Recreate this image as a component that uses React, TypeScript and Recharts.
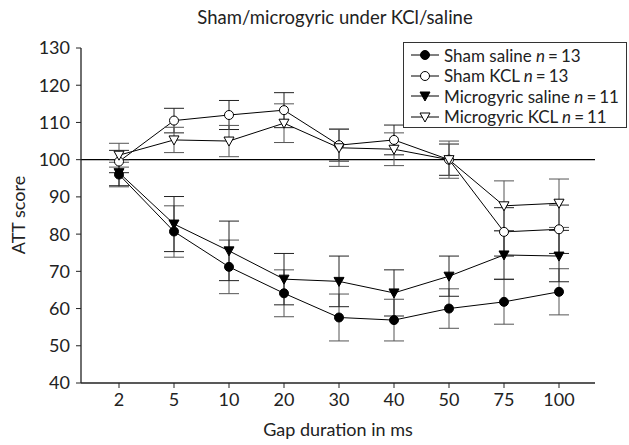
import { LineChart, Line, XAxis, YAxis, ErrorBar, ReferenceLine, Label } from 'recharts'

const gaps = ['2', '5', '10', '20', '30', '40', '50', '75', '100']
const yTicks = [40, 50, 60, 70, 80, 90, 100, 110, 120, 130]

const shamSaline = [96, 80.7, 71.2, 64.1, 57.6, 56.9, 60, 61.8, 64.5]
const shamSalineErr = [3.3, 6.9, 7.2, 6.3, 6.3, 5.6, 5.3, 6, 6.2]
const shamKcl = [99.5, 110.5, 112, 113.3, 103.9, 105.3, 100, 80.6, 81.3]
const shamKclErr = [3, 3.3, 3.9, 4.7, 4.3, 4, 4.2, 6.5, 6.5]
const microSaline = [96.5, 82.7, 75.5, 67.9, 67.3, 64.2, 68.7, 74.4, 74.1]
const microSalineErr = [3.5, 7.4, 8, 6.9, 6.8, 6.2, 5.4, 6.5, 6.9]
const microKcl = [101.2, 105.3, 105, 109.8, 103.2, 102.8, 100, 87.6, 88.3]
const microKclErr = [3.2, 3.4, 4.2, 5.2, 5, 4.4, 5, 6.7, 6.5]

const data = gaps.map((g, i) => ({
  gap: g,
  shamSaline: shamSaline[i],
  shamSalineErr: shamSalineErr[i],
  shamKcl: shamKcl[i],
  shamKclErr: shamKclErr[i],
  microSaline: microSaline[i],
  microSalineErr: microSalineErr[i],
  microKcl: microKcl[i],
  microKclErr: microKclErr[i],
}))

const FONT = 'Lato, "Open Sans", sans-serif'

const circleDot = (fill: string) => (props: any) => (
  <circle key={props.index} cx={props.cx} cy={props.cy} r={4.5} fill={fill} stroke="#000" strokeWidth={1} />
)

const triDot = (fill: string) => (props: any) => {
  const { cx, cy } = props
  return (
    <polygon
      key={props.index}
      points={`${cx - 5},${cy - 4} ${cx + 5},${cy - 4} ${cx},${cy + 5}`}
      fill={fill}
      stroke="#000"
      strokeWidth={1}
    />
  )
}

const legendRows = [
  { label: 'Sham saline', n: '13', shape: 'circle', fill: '#000' },
  { label: 'Sham KCL', n: '13', shape: 'circle', fill: '#fff' },
  { label: 'Microgyric saline', n: '11', shape: 'tri', fill: '#000' },
  { label: 'Microgyric KCL', n: '11', shape: 'tri', fill: '#fff' },
]

function LegendBox() {
  return (
    <div
      style={{
        position: 'absolute',
        left: 403,
        top: 42,
        border: '1px solid #333',
        background: '#fff',
        width: 224,
        height: 86,
        boxSizing: 'border-box',
        padding: '2px 0 0 6px',
        fontFamily: FONT,
        fontSize: 17,
        color: '#222',
      }}
    >
      {legendRows.map((r) => (
        <div key={r.label} style={{ display: 'flex', alignItems: 'center', height: 20.5, whiteSpace: 'nowrap' }}>
          <svg width={30} height={12} style={{ marginRight: 4 }}>
            <line x1={1} y1={6} x2={29} y2={6} stroke="#000" strokeWidth={1} />
            {r.shape === 'circle' ? (
              <circle cx={15} cy={6} r={4.5} fill={r.fill} stroke="#000" />
            ) : (
              <polygon points="10,2 20,2 15,11" fill={r.fill} stroke="#000" />
            )}
          </svg>
          <span>
            {r.label} <i>n</i>
            <span style={{ margin: '0 3px' }}>=</span>
            {r.n}
          </span>
        </div>
      ))}
    </div>
  )
}

export default function App() {
  return (
    <div style={{ position: 'absolute', left: 0, top: 0, width: 629, height: 445, background: '#fff' }}>
      <div
        style={{
          position: 'absolute',
          top: 6,
          left: 0,
          width: 670,
          textAlign: 'center',
          fontFamily: FONT,
          fontSize: 18.5,
          color: '#222',
        }}
      >
        Sham/microgyric under KCl/saline
      </div>
      <LineChart width={629} height={445} data={data} margin={{ top: 48, right: 34, bottom: 32, left: 27 }}>
        <XAxis
          dataKey="gap"
          height={30}
          padding={{ left: 38, right: 36 }}
          tickLine={{ stroke: '#222' }}
          axisLine={{ stroke: '#222', strokeWidth: 1.3 }}
          tickSize={5}
          tickMargin={5}
          tick={{ fill: '#222', fontSize: 18, fontFamily: FONT }}
        >
          <Label
            content={() => (
              <text x={338} y={436} textAnchor="middle" fill="#222" fontSize={18} fontFamily={FONT}>
                Gap duration in ms
              </text>
            )}
          />
        </XAxis>
        <YAxis
          width={54}
          domain={[40, 130]}
          ticks={yTicks}
          interval={0}
          tickLine={{ stroke: '#222' }}
          axisLine={{ stroke: '#222', strokeWidth: 1.3 }}
          tickSize={5}
          tickMargin={6}
          tick={{ fill: '#222', fontSize: 18, fontFamily: FONT }}
        >
          <Label
            content={() => (
              <text
                x={20}
                y={215}
                transform="rotate(-90 20 215)"
                textAnchor="middle"
                dominantBaseline="middle"
                fill="#222"
                fontSize={18}
                fontFamily={FONT}
              >
                ATT score
              </text>
            )}
          />
        </YAxis>
        <ReferenceLine y={100} stroke="#000" strokeWidth={1.3} />
        <Line dataKey="shamSaline" stroke="#000" strokeWidth={1} dot={circleDot('#000')} isAnimationActive={false}>
          <ErrorBar dataKey="shamSalineErr" width={10} stroke="#555" strokeWidth={1} direction="y" />
        </Line>
        <Line dataKey="shamKcl" stroke="#000" strokeWidth={1} dot={circleDot('#fff')} isAnimationActive={false}>
          <ErrorBar dataKey="shamKclErr" width={10} stroke="#222" strokeWidth={1} direction="y" />
        </Line>
        <Line dataKey="microSaline" stroke="#000" strokeWidth={1} dot={triDot('#000')} isAnimationActive={false}>
          <ErrorBar dataKey="microSalineErr" width={10} stroke="#222" strokeWidth={1} direction="y" />
        </Line>
        <Line dataKey="microKcl" stroke="#000" strokeWidth={1} dot={triDot('#fff')} isAnimationActive={false}>
          <ErrorBar dataKey="microKclErr" width={10} stroke="#555" strokeWidth={1} direction="y" />
        </Line>
      </LineChart>
      <LegendBox />
    </div>
  )
}
